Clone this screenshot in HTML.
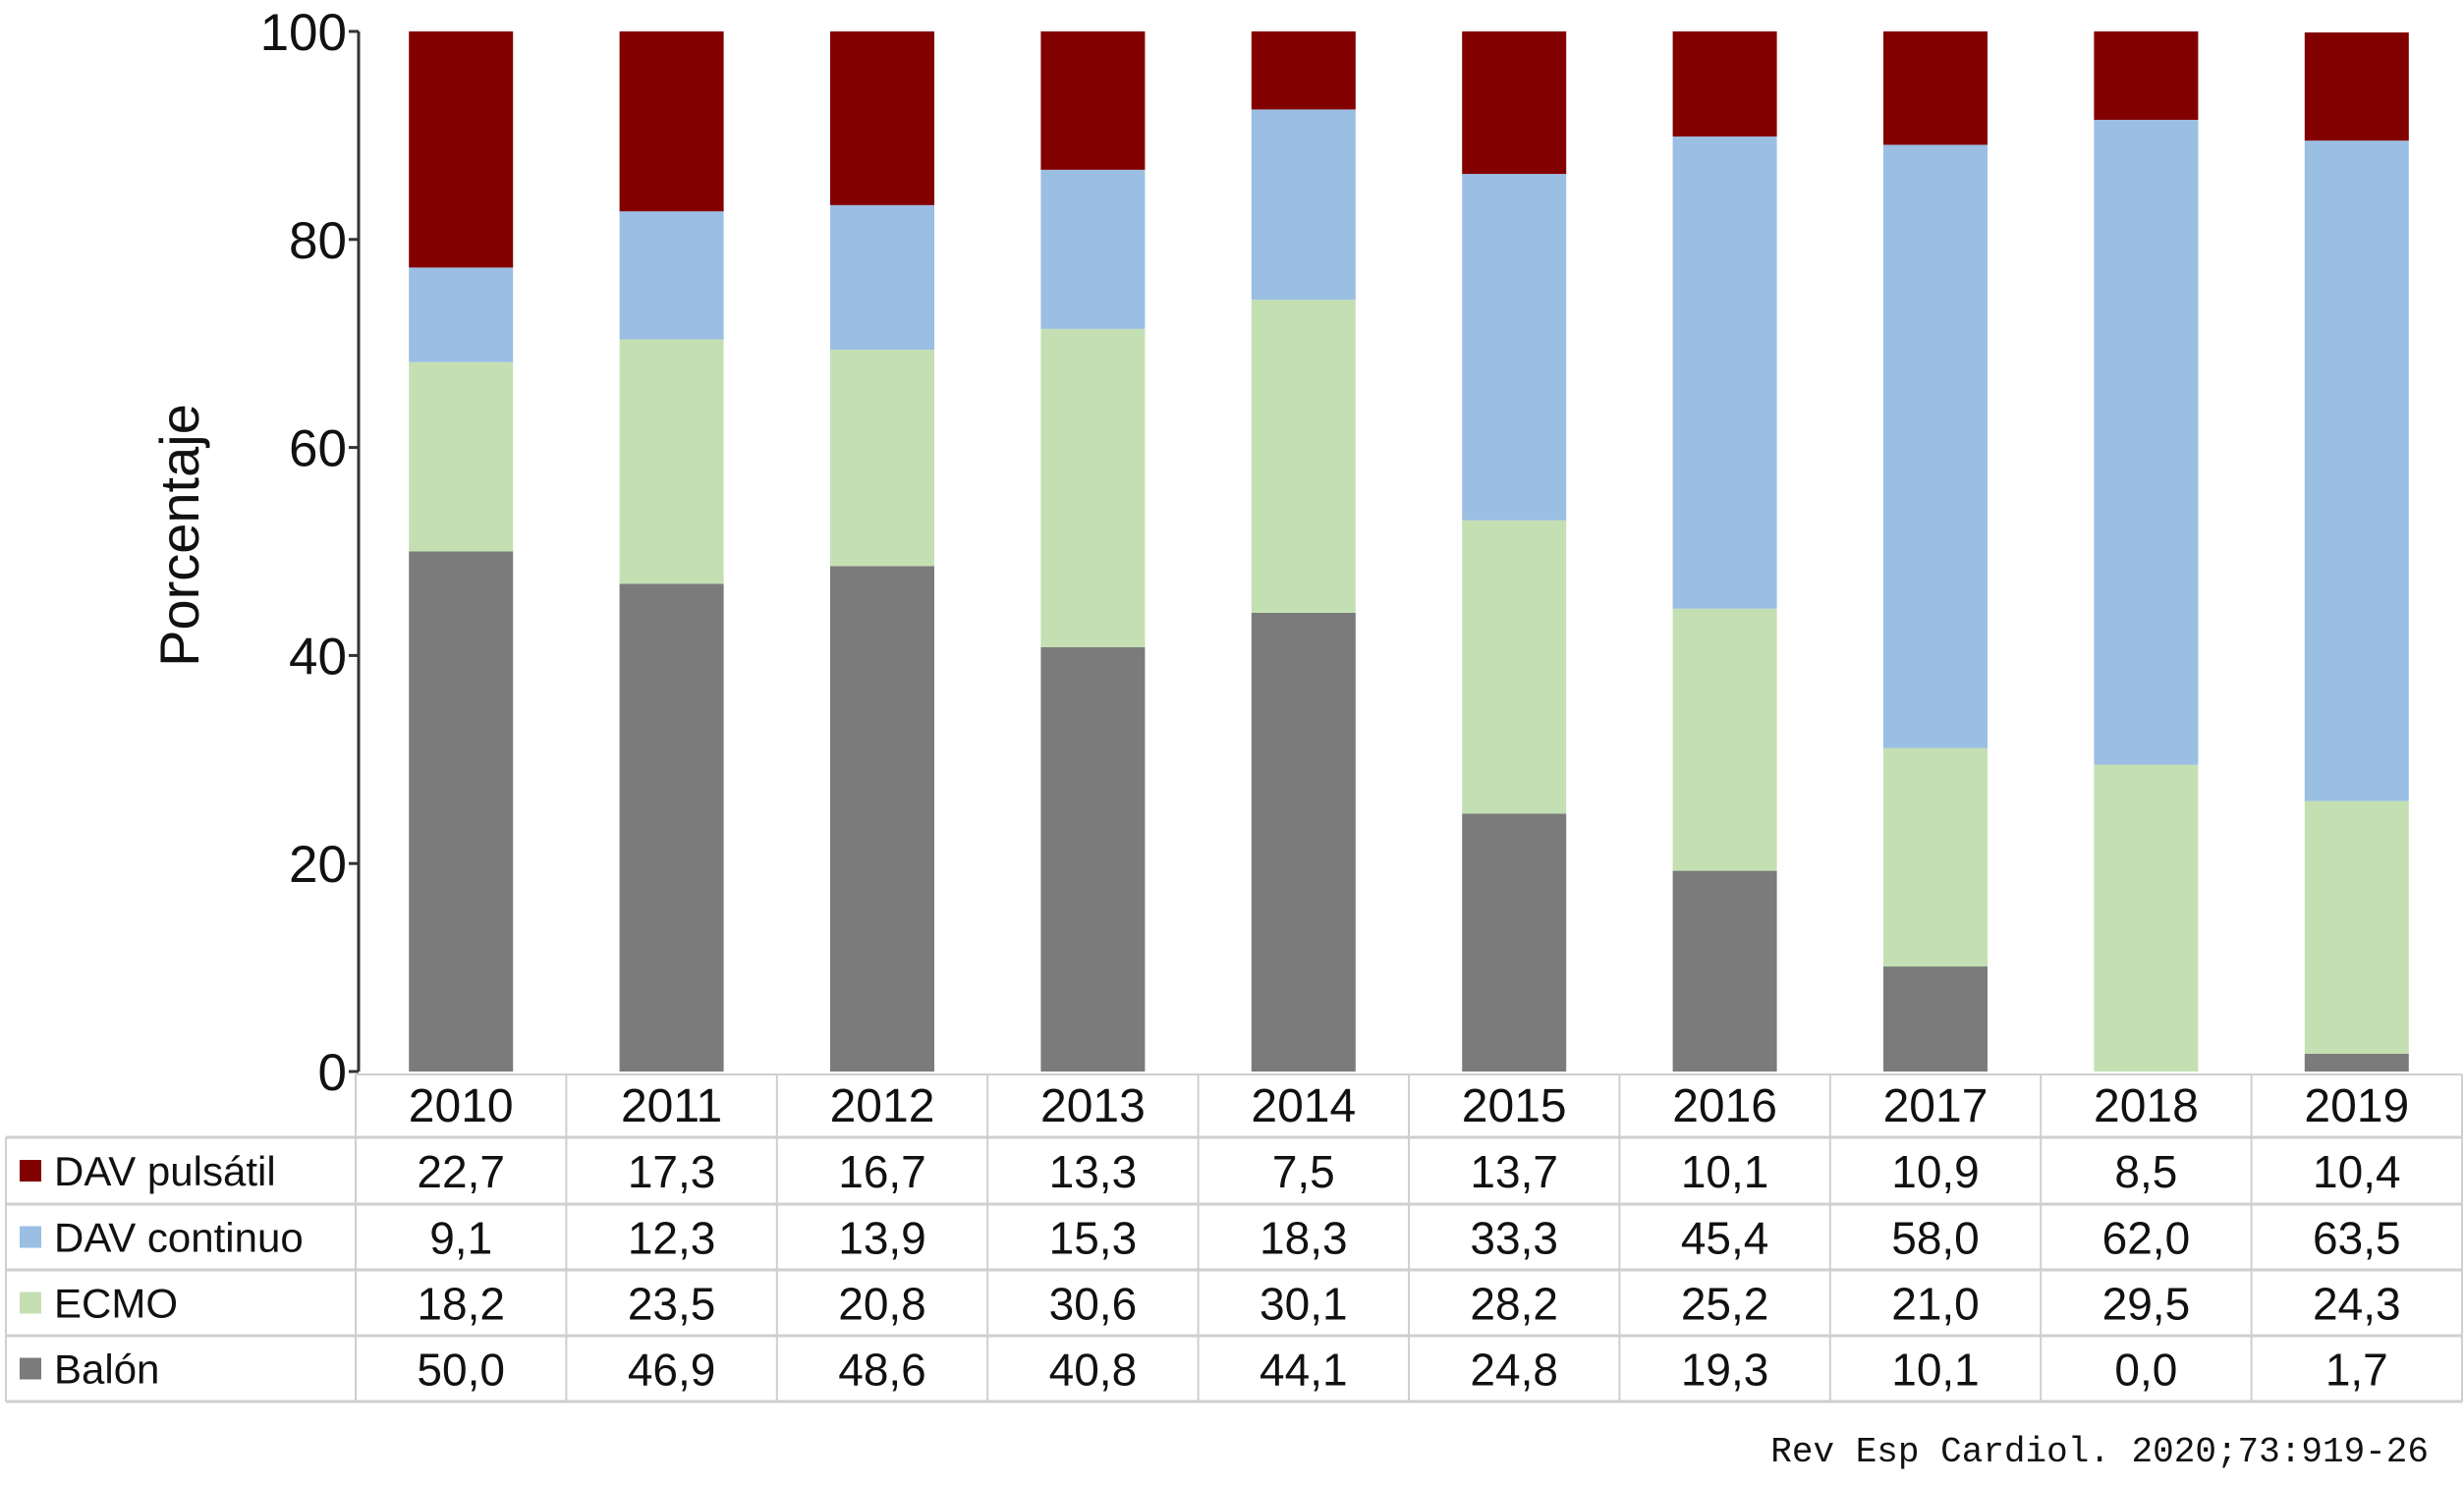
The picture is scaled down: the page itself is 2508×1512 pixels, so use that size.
<!DOCTYPE html>
<html><head><meta charset="utf-8"><style>
html,body{margin:0;padding:0;background:#fff;}
svg{display:block;font-family:"Liberation Sans",sans-serif;}
</style></head><body>
<svg id="chart" width="2508" height="1512" viewBox="0 0 2508 1512" xmlns="http://www.w3.org/2000/svg">
<rect x="0" y="0" width="2508" height="1512" fill="#fff"/>
<text x="202" y="545" font-size="56" text-anchor="middle" transform="rotate(-90 202 545)" fill="#111">Porcentaje</text>
<text x="2472" y="1488" font-size="36" text-anchor="end" font-family="Liberation Mono, DejaVu Sans Mono, monospace" fill="#111">Rev Esp Cardiol. 2020;73:919-26</text>
<g id="axis"></g><g id="bars"></g><g id="table"></g>
</svg>
<script>
const years = ['2010','2011','2012','2013','2014','2015','2016','2017','2018','2019'];
const balon = [50.0,46.9,48.6,40.8,44.1,24.8,19.3,10.1,0.0,1.7];
const ecmo = [18.2,23.5,20.8,30.6,30.1,28.2,25.2,21.0,29.5,24.3];
const davContinuo = [9.1,12.3,13.9,15.3,18.3,33.3,45.4,58.0,62.0,63.5];
const davPulsatil = [22.7,17.3,16.7,13.3,7.5,13.7,10.1,10.9,8.5,10.4];
const yTicks = [0,20,40,60,80,100];
const seriesNames = ['DAV pulsátil','DAV continuo','ECMO','Balón'];

const NS='http://www.w3.org/2000/svg';
const Y0=1091, Y100=32, AX=365, COL0=362, COLW=214.4, BARW=106;
function y(v){return Y0-(Y0-Y100)*v/100;}
function xc(i){return COL0+COLW*(i+0.5);}
function mk(tag,attrs,parent){const e=document.createElementNS(NS,tag);for(const k in attrs)e.setAttribute(k,attrs[k]);parent.appendChild(e);return e;}
const axis=document.getElementById('axis'),bars=document.getElementById('bars'),table=document.getElementById('table');

let ln=mk('line',{x1:AX,x2:AX,y1:Y100,y2:Y0,stroke:'#333','stroke-width':3},axis);


yTicks.forEach(t=>{
  const tk=mk('line',{x1:AX-10,x2:AX,y1:y(t),y2:y(t),stroke:'#333','stroke-width':3},axis);
  
  
  const tl=mk('text',{x:AX-12,y:y(t)+19,'font-size':53,'text-anchor':'end',fill:'#111'},axis);
  tl.textContent=t;
  
  
});

const colors={'Balón':'#7b7b7b','ECMO':'#c4e0b3','DAV continuo':'#9bbee3','DAV pulsátil':'#820000'};
const stack=[['Balón',balon],['ECMO',ecmo],['DAV continuo',davContinuo],['DAV pulsátil',davPulsatil]];
years.forEach((yr,i)=>{
  let base=0;
  stack.forEach(([nm,arr])=>{
    const v=arr[i];
    if(v>0){
      const r=mk('rect',{x:xc(i)-BARW/2,y:y(base+v),width:BARW,height:y(base)-y(base+v),fill:colors[nm]},bars);
      
      
    }
    base+=v;
  });
});

const rowLines=[1158,1226,1293,1360,1427];
const G='#cfcfcf';
let tl;
tl=mk('line',{x1:COL0,x2:2506,y1:1094,y2:1094,stroke:G,'stroke-width':2},table);


rowLines.forEach(ry=>{
  const l=mk('line',{x1:6,x2:2506,y1:ry,y2:ry,stroke:G,'stroke-width':3},table);
  
  
});
for(let i=0;i<=years.length;i++){
  const l=mk('line',{x1:COL0+COLW*i,x2:COL0+COLW*i,y1:1094,y2:1427,stroke:G,'stroke-width':2},table);
  
  
}
const l0=mk('line',{x1:6,x2:6,y1:1158,y2:1427,stroke:G,'stroke-width':2},table);


years.forEach((yr,i)=>{
  const t=mk('text',{x:xc(i),y:1142,'font-size':48,'text-anchor':'middle',fill:'#111'},table);
  t.textContent=yr;
  
  
});
const rows=[['DAV pulsátil',davPulsatil],['DAV continuo',davContinuo],['ECMO',ecmo],['Balón',balon]];
rows.forEach(([nm,arr],r)=>{
  const top=rowLines[r],bot=rowLines[r+1],mid=(top+bot)/2;
  const sq=mk('rect',{x:20,y:mid-11,width:22,height:22,fill:colors[nm]},table);
  
  
  const lt=mk('text',{x:55,y:mid+15,'font-size':42,fill:'#111'},table);
  lt.textContent=nm;
  
  
  arr.forEach((v,i)=>{
    const t=mk('text',{x:xc(i),y:mid+17,'font-size':46,'text-anchor':'middle',fill:'#111'},table);
    t.textContent=v.toFixed(1).replace('.',',');
    
    
  });
});
</script>
</body></html>
